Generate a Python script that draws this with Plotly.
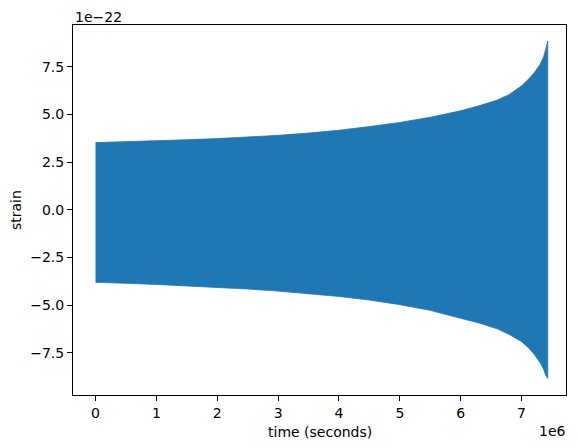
"""
Chirp strain envelope, drawn as a filled band between the upper and lower
envelope read from the reference plot.
"""

import plotly.graph_objects as go

# time in units of 1e6 seconds
time_1e6 = [0, 0.5, 1, 1.5, 2, 2.5, 3, 3.5, 4, 4.5, 5, 5.5, 6, 6.3, 6.6,
            6.8, 7.0, 7.1, 7.2, 7.3, 7.36, 7.4, 7.43]

# strain envelope in units of 1e-22
upper_1e22 = [3.52, 3.56, 3.61, 3.67, 3.73, 3.80, 3.90, 4.02, 4.17, 4.36,
              4.58, 4.85, 5.19, 5.45, 5.75, 6.05, 6.5, 6.8, 7.15, 7.6, 8.0,
              8.45, 8.85]
lower_1e22 = [-3.81, -3.86, -3.92, -3.99, -4.07, -4.16, -4.27, -4.40, -4.55,
              -4.74, -4.98, -5.28, -5.70, -5.94, -6.25, -6.55, -6.92, -7.2,
              -7.55, -8.0, -8.35, -8.7, -8.85]

x_ticks = [0, 1, 2, 3, 4, 5, 6, 7]
y_ticks = [-7.5, -5.0, -2.5, 0.0, 2.5, 5.0, 7.5]

blue = "#1f77b4"
font = dict(family="DejaVu Sans", size=14, color="black")

figure = go.Figure()

# Upper envelope forward, lower envelope back, closed into one polygon
figure.add_trace(
    go.Scatter(
        x=time_1e6 + time_1e6[::-1],
        y=upper_1e22 + lower_1e22[::-1],
        mode="lines",
        fill="toself",
        fillcolor=blue,
        line=dict(color=blue, width=0.8),
        showlegend=False
    )
)

axis_style = dict(
    showgrid=False,
    zeroline=False,
    showline=True,
    linecolor="black",
    linewidth=1,
    mirror=True,
    ticks="outside",
    ticklen=5,
    tickwidth=1,
    tickcolor="black",
    tickfont=font,
    automargin=False
)

figure.update_layout(
    width=578,
    height=448,
    margin=dict(l=65, r=20, t=17, b=61),
    plot_bgcolor="white",
    paper_bgcolor="white",
    font=font,
    xaxis=dict(
        axis_style,
        range=[-0.37, 7.73],
        tickvals=x_ticks,
        tickformat="d"
    ),
    yaxis=dict(
        axis_style,
        range=[-9.72, 9.69],
        tickvals=y_ticks,
        tickformat=".1f"
    ),
    annotations=[
        dict(
            text="time (seconds)", xref="paper", yref="paper", x=0.5, y=0,
            xanchor="center", yanchor="top", showarrow=False, font=font,
            yshift=-27
        ),
        dict(
            text="strain", xref="paper", yref="paper", x=0, y=0.5,
            xanchor="right", yanchor="middle", showarrow=False, font=font,
            textangle=-90, xshift=-47
        ),
        dict(
            text="1e\u221222", xref="paper", yref="paper", x=0, y=1,
            xanchor="left", yanchor="bottom", showarrow=False, font=font,
            yshift=-2
        ),
        dict(
            text="1e6", xref="paper", yref="paper", x=1, y=0,
            xanchor="right", yanchor="top", showarrow=False, font=font,
            yshift=-26, xshift=2
        )
    ]
)

figure.write_html("out.html")
